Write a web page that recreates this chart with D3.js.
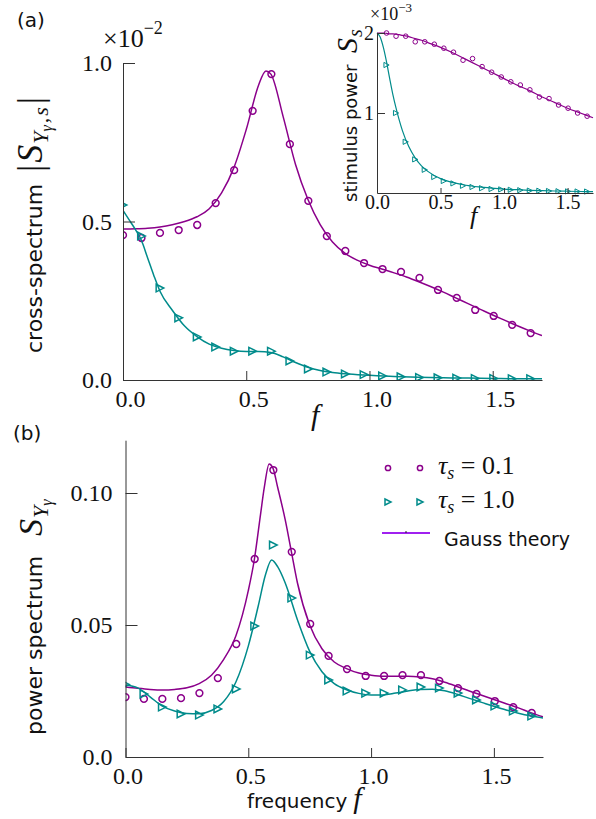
<!DOCTYPE html>
<html>
<head>
<meta charset="utf-8">
<script src="https://cdn.jsdelivr.net/npm/d3@7"></script>
<style>
  body { margin: 0; background: #fff; }
  svg text { fill: #111; }
</style>
</head>
<body>
<svg id="fig" width="596" height="819"></svg>
<script>
// ---------------- data ----------------
// sampled frequencies of the simulation points
const fSample = [0, 0.075, 0.15, 0.226, 0.301, 0.376, 0.451, 0.526, 0.602, 0.677, 0.752, 0.827,
                 0.902, 0.978, 1.053, 1.128, 1.203, 1.278, 1.354, 1.429, 1.504, 1.579, 1.654];

// (a) cross-spectrum |S_{Y,s}| in units of 1e-2
const crossTau01 = [0.457, 0.448, 0.464, 0.473, 0.489, 0.558, 0.662, 0.849, 0.965, 0.744, 0.565, 0.454,
                    0.407, 0.369, 0.350, 0.341, 0.322, 0.284, 0.259, 0.221, 0.202, 0.174, 0.148];
const crossTau10 = [0.552, 0.454, 0.290, 0.196, 0.136, 0.104, 0.091, 0.091, 0.091, 0.060, 0.035, 0.025,
                    0.019, 0.017, 0.013, 0.010, 0.008, 0.007, 0.006, 0.005, 0.005, 0.004, 0.004];
const crossTheoryF01 = [0, 0.05, 0.1, 0.15, 0.2, 0.25, 0.3, 0.35, 0.4, 0.45, 0.5, 0.55, 0.58, 0.6, 0.65, 0.7,
                        0.75, 0.8, 0.85, 0.9, 0.95, 1.0, 1.05, 1.1, 1.15, 1.2, 1.25, 1.3, 1.35, 1.4, 1.45,
                        1.5, 1.55, 1.6, 1.65, 1.7];
const crossTheory01 = [0.476, 0.477, 0.479, 0.483, 0.49, 0.5, 0.515, 0.54, 0.59, 0.67, 0.79, 0.93, 0.975,
                       0.965, 0.83, 0.68, 0.57, 0.49, 0.435, 0.40, 0.378, 0.362, 0.35, 0.338, 0.325, 0.31,
                       0.294, 0.277, 0.259, 0.241, 0.223, 0.205, 0.188, 0.171, 0.155, 0.14];
const crossTheoryF10 = [0, 0.025, 0.05, 0.075, 0.1, 0.125, 0.15, 0.2, 0.25, 0.3, 0.35, 0.4, 0.45, 0.5, 0.55,
                        0.6, 0.65, 0.7, 0.75, 0.8, 0.85, 0.9, 1.0, 1.1, 1.2, 1.3, 1.4, 1.5, 1.6, 1.7];
const crossTheory10 = [0.535, 0.505, 0.475, 0.44, 0.385, 0.33, 0.28, 0.22, 0.17, 0.137, 0.113, 0.1, 0.093,
                       0.09, 0.09, 0.087, 0.073, 0.055, 0.04, 0.03, 0.024, 0.02, 0.015, 0.011, 0.009,
                       0.007, 0.006, 0.005, 0.004, 0.004];

// inset: stimulus power S_s in units of 1e-3
const stimF = fSample.slice(1);
const stimTau01 = [2.0, 1.96, 1.96, 1.89, 1.89, 1.86, 1.81, 1.76, 1.66, 1.68, 1.58, 1.51, 1.45, 1.39,
                   1.35, 1.29, 1.2, 1.18, 1.1, 1.06, 1.0, 0.96];
const stimTau10 = [1.6, 1.0, 0.64, 0.42, 0.29, 0.2, 0.15, 0.12, 0.09, 0.075, 0.06, 0.05, 0.045, 0.04,
                   0.035, 0.03, 0.028, 0.025, 0.022, 0.02, 0.019, 0.018];
const stimTheoryF = [0, 0.025, 0.05, 0.075, 0.1, 0.125, 0.15, 0.175, 0.2, 0.25, 0.3, 0.35, 0.4, 0.5, 0.6,
                     0.7, 0.8, 0.9, 1.0, 1.1, 1.2, 1.3, 1.4, 1.5, 1.6, 1.7];
const stimTheory01 = [2.0, 2.0, 2.0, 1.995, 1.99, 1.99, 1.985, 1.98, 1.97, 1.955, 1.93, 1.91, 1.88, 1.82,
                      1.75, 1.67, 1.59, 1.51, 1.43, 1.35, 1.28, 1.2, 1.13, 1.06, 1.0, 0.94];
const stimTheory10 = [2.0, 1.95, 1.82, 1.64, 1.43, 1.23, 1.06, 0.91, 0.78, 0.58, 0.44, 0.34, 0.27, 0.18,
                      0.13, 0.097, 0.076, 0.061, 0.049, 0.041, 0.034, 0.029, 0.025, 0.022, 0.019, 0.017];

// (b) power spectrum S_Y
const powerTau01 = [0.0227, 0.022, 0.022, 0.0223, 0.0242, 0.0299, 0.0428, 0.075, 0.1087, 0.0777, 0.0504,
                    0.0383, 0.0333, 0.0307, 0.0307, 0.031, 0.031, 0.0288, 0.0261, 0.0239, 0.0212, 0.0189, 0.0167];
const powerTau10 = [0.0275, 0.0239, 0.0189, 0.0163, 0.0159, 0.0182, 0.0258, 0.0496, 0.0803, 0.0602, 0.0386,
                    0.0292, 0.025, 0.0242, 0.0242, 0.0254, 0.0265, 0.0261, 0.0242, 0.0216, 0.0193, 0.0174, 0.0155];
const powerTheoryF01 = [0, 0.05, 0.1, 0.15, 0.2, 0.25, 0.3, 0.35, 0.4, 0.45, 0.5, 0.525, 0.55, 0.565, 0.585,
                        0.6, 0.62, 0.65, 0.675, 0.7, 0.75, 0.8, 0.85, 0.9, 0.95, 1.0, 1.05, 1.1, 1.15, 1.2,
                        1.25, 1.3, 1.35, 1.4, 1.45, 1.5, 1.55, 1.6, 1.65, 1.7];
const powerTheory01 = [0.0265, 0.026, 0.0256, 0.0254, 0.0256, 0.0262, 0.0278, 0.031, 0.037, 0.046, 0.063,
                       0.075, 0.092, 0.102, 0.111, 0.1095, 0.102, 0.09, 0.078, 0.066, 0.05, 0.041, 0.036,
                       0.0335, 0.0318, 0.031, 0.0306, 0.0306, 0.0306, 0.0303, 0.0296, 0.0283, 0.0267, 0.025,
                       0.0234, 0.0218, 0.0202, 0.0186, 0.0168, 0.0152];
const powerTheoryF10 = [0, 0.05, 0.1, 0.15, 0.2, 0.25, 0.3, 0.35, 0.4, 0.45, 0.5, 0.54, 0.57, 0.595, 0.62,
                        0.65, 0.7, 0.75, 0.8, 0.85, 0.9, 0.95, 1.0, 1.05, 1.1, 1.15, 1.2, 1.25, 1.3, 1.35,
                        1.4, 1.45, 1.5, 1.55, 1.6, 1.65, 1.7];
const powerTheory10 = [0.0273, 0.0262, 0.0228, 0.0193, 0.0174, 0.0165, 0.0164, 0.0176, 0.021, 0.0285, 0.042,
                       0.057, 0.069, 0.0746, 0.072, 0.066, 0.052, 0.04, 0.0323, 0.0278, 0.0255, 0.0241,
                       0.0235, 0.0235, 0.0242, 0.025, 0.0256, 0.0257, 0.0251, 0.0238, 0.0222, 0.0207,
                       0.0192, 0.0178, 0.0166, 0.0156, 0.0148];

// ticks
const xTicks = [0, 0.5, 1.0, 1.5];
const crossYTicks = [0, 0.5, 1.0];
const stimYTicks = [1, 2];
const powerYTicks = [0, 0.05, 0.10];
const legendLabels = ["0.1", "1.0"];

// ---------------- style ----------------
const PURPLE = "#8b008b", TEAL = "#008b8b", THEORY = "#a020f0";
const SANS = "'DejaVu Sans', sans-serif";
const SERIF = "'Liberation Serif', 'DejaVu Serif', serif";
const AXIS = "#333";

const svg = d3.select("#fig");
const defs = svg.append("defs");

const tri = s => `M${-s},${-s}L${s},0L${-s},${s}Z`;
const zip = (xs, ys) => xs.map((x, i) => [x, ys[i]]);

function addText(parent, x, y, parts, attrs = {}) {
  const t = parent.append("text").attr("x", x).attr("y", y);
  Object.entries(attrs).forEach(([k, v]) => t.attr(k, v));
  parts.forEach(p => {
    const s = t.append("tspan").text(p.t)
      .style("font-family", p.fam || SERIF)
      .style("font-size", p.size + "px");
    if (p.it) s.style("font-style", "italic");
    if (p.dy) s.attr("dy", p.dy);
    if (p.dx) s.attr("dx", p.dx);
    if (p.x !== undefined) s.attr("x", p.x);
  });
  return t;
}

function panel(cfg) {
  const g = svg.append("g");
  const { x, y } = cfg;
  const id = cfg.id;
  defs.append("clipPath").attr("id", id).append("rect")
    .attr("x", x.range()[0]).attr("y", y.range()[1])
    .attr("width", x.range()[1] - x.range()[0])
    .attr("height", y.range()[0] - y.range()[1]);

  const line = d3.line().x(d => x(d[0])).y(d => y(d[1])).curve(d3.curveMonotoneX);
  const plot = g.append("g").attr("clip-path", cfg.clip ? `url(#${id})` : null);

  cfg.series.forEach(s => {
    plot.append("path").datum(zip(s.tf, s.tv))
      .attr("d", line).attr("fill", "none")
      .attr("stroke", s.color).attr("stroke-width", cfg.lw);
    plot.append("g").selectAll("path").data(zip(s.f, s.v)).join("path")
      .attr("transform", d => `translate(${x(d[0])},${y(d[1])})`)
      .attr("d", s.marker === "o" ? d3.symbol(d3.symbolCircle, Math.PI * cfg.r * cfg.r)() : tri(cfg.t))
      .attr("fill", "none").attr("stroke", s.color).attr("stroke-width", cfg.mw);
  });

  // axes with inward ticks, left and bottom spines only
  const ax = g.append("g").attr("transform", `translate(0,${y.range()[0]})`)
    .call(d3.axisBottom(x).tickValues(xTicks).tickFormat(d3.format(".1f"))
      .tickSizeInner(-cfg.xtick).tickSizeOuter(0).tickPadding(cfg.xpad));
  const ay = g.append("g").attr("transform", `translate(${x.range()[0]},0)`)
    .call(d3.axisLeft(y).tickValues(cfg.yTicks).tickFormat(cfg.yFmt)
      .tickSizeInner(-cfg.ytick).tickSizeOuter(0).tickPadding(cfg.ypad));
  [ax, ay].forEach(a => {
    a.attr("font-family", null).attr("font-size", null);
    a.select(".domain").attr("stroke", AXIS).attr("stroke-width", 1);
    a.selectAll(".tick line").attr("stroke", AXIS).attr("stroke-width", 1);
    a.selectAll(".tick text").style("font-family", SERIF).style("font-size", cfg.fs + "px")
      .attr("fill", "#111");
  });
  ax.selectAll(".tick text").attr("dx", cfg.xshift || 0);
  return g;
}

// ---------------- (a) cross-spectrum ----------------
const xA = d3.scaleLinear().domain([0, 1.7]).range([123, 542]);
const yA = d3.scaleLinear().domain([0, 1.0]).range([380, 63]);
panel({
  id: "clipA", x: xA, y: yA, clip: true, lw: 1.5, mw: 1.5, r: 3.4, t: 3.8,
  xtick: 9, ytick: 12, xpad: 10, ypad: 11, fs: 24, xshift: 7,
  yTicks: crossYTicks, yFmt: d3.format(".1f"),
  series: [
    { f: fSample, v: crossTau01, tf: crossTheoryF01, tv: crossTheory01, color: PURPLE, marker: "o" },
    { f: fSample, v: crossTau10, tf: crossTheoryF10, tv: crossTheory10, color: TEAL, marker: ">" }
  ]
});
addText(svg, 17, 27, [{ t: "(a)", fam: SANS, size: 20 }]);
addText(svg, 103, 47, [{ t: "×10", size: 26 }, { t: "−2", size: 18, dy: -13 }]);
// y label (rotated)
const labA = svg.append("g").attr("transform", "translate(42,0) rotate(-90)");
addText(labA, -353, 0, [
  { t: "cross-spectrum", fam: SANS, size: 22 },
  { t: "|", size: 36, x: -172 },
  { t: "S", size: 36, it: true, dx: 2 },
  { t: "Y", size: 22, it: true, dy: 6, dx: 1 },
  { t: "γ", size: 16, it: true, dy: 4 },
  { t: ",", size: 22, dy: -4, dx: 2 },
  { t: "s", size: 22, it: true, dx: 2 },
  { t: "|", size: 36, dy: -6, dx: 3 }
]);
addText(svg, 311, 425, [{ t: "f", size: 30, it: true }]);

// ---------------- inset: stimulus power ----------------
const xI = d3.scaleLinear().domain([0, 1.7]).range([377, 593]);
const yI = d3.scaleLinear().domain([0, 2]).range([193, 33]);
panel({
  id: "clipI", x: xI, y: yI, clip: false, lw: 1.2, mw: 1, r: 2.3, t: 2.6,
  xtick: 5, ytick: 8, xpad: 2, ypad: 3, fs: 20, xshift: 0,
  yTicks: stimYTicks, yFmt: d3.format("d"),
  series: [
    { f: stimF, v: stimTau01, tf: stimTheoryF, tv: stimTheory01, color: PURPLE, marker: "o" },
    { f: stimF, v: stimTau10, tf: stimTheoryF, tv: stimTheory10, color: TEAL, marker: ">" }
  ]
});
addText(svg, 370, 20, [{ t: "×10", size: 18 }, { t: "−3", size: 13, dy: -8 }]);
const labI = svg.append("g").attr("transform", "translate(357,0) rotate(-90)");
addText(labI, -202, 0, [
  { t: "stimulus power", fam: SANS, size: 18 },
  { t: "S", size: 30, it: true, x: -53 },
  { t: "s", size: 20, it: true, dy: 5, dx: 1 }
]);
addText(svg, 470, 224, [{ t: "f", size: 26, it: true }]);

// ---------------- (b) power spectrum ----------------
const xB = d3.scaleLinear().domain([0, 1.7]).range([125.5, 543]);
const yB = d3.scaleLinear().domain([0, 0.12]).range([757, 440.2]);
panel({
  id: "clipB", x: xB, y: yB, clip: true, lw: 1.5, mw: 1.5, r: 3.4, t: 3.8,
  xtick: 9, ytick: 12, xpad: 10, ypad: 13, fs: 24, xshift: 2,
  yTicks: powerYTicks, yFmt: d => (d === 0 ? "0.0" : d3.format(".2f")(d)),
  series: [
    { f: fSample, v: powerTau01, tf: powerTheoryF01, tv: powerTheory01, color: PURPLE, marker: "o" },
    { f: fSample, v: powerTau10, tf: powerTheoryF10, tv: powerTheory10, color: TEAL, marker: ">" }
  ]
});
addText(svg, 13, 440, [{ t: "(b)", fam: SANS, size: 20 }]);
const labB = svg.append("g").attr("transform", "translate(42,0) rotate(-90)");
addText(labB, -735, 0, [
  { t: "power spectrum", fam: SANS, size: 22 },
  { t: "S", size: 34, it: true, x: -536 },
  { t: "Y", size: 22, it: true, dy: 6, dx: 1 },
  { t: "γ", size: 16, it: true, dy: 4 }
]);
addText(svg, 247, 808, [{ t: "frequency", fam: SANS, size: 20 }, { t: "f", size: 30, it: true, dx: 6 }]);

// legend
const leg = svg.append("g");
const legendColors = [PURPLE, TEAL];
const legendMarkers = ["o", ">"];
const legendY = [468, 502];
legendLabels.forEach((lab, i) => {
  [388, 420].forEach(mx => {
    leg.append("path").attr("transform", `translate(${mx},${legendY[i]})`)
      .attr("d", legendMarkers[i] === "o" ? d3.symbol(d3.symbolCircle, Math.PI * 2.6 * 2.6)() : tri(3))
      .attr("fill", "none").attr("stroke", legendColors[i]).attr("stroke-width", 1.5);
  });
  addText(leg, 438, legendY[i] + 6, [
    { t: "τ", size: 26, it: true },
    { t: "s", size: 18, it: true, dy: 5 },
    { t: " = " + lab, size: 26, dy: -5 }
  ]);
});
leg.append("line").attr("x1", 382).attr("x2", 430).attr("y1", 533).attr("y2", 533)
  .attr("stroke", THEORY).attr("stroke-width", 2);
leg.append("line").attr("x1", 406).attr("x2", 406).attr("y1", 531).attr("y2", 533)
  .attr("stroke", "#222").attr("stroke-width", 1);
addText(leg, 444, 546, [{ t: "Gauss theory", fam: SANS, size: 19 }]);
</script>
</body>
</html>
